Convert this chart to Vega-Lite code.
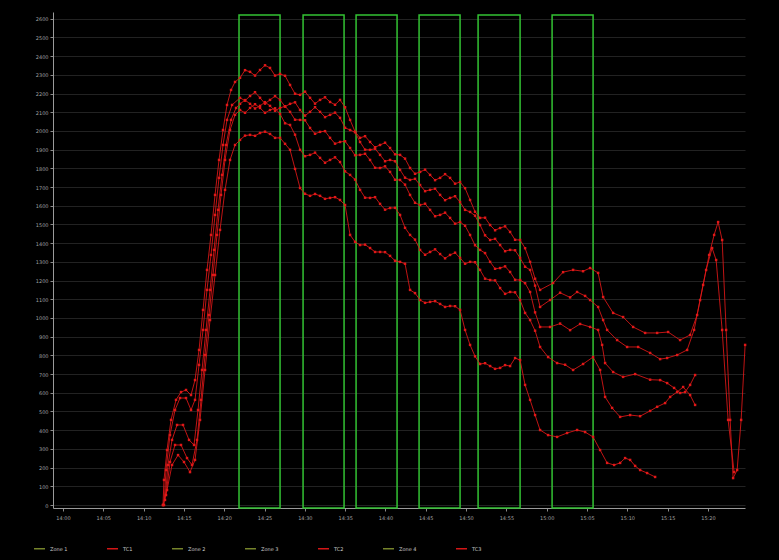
{
"$schema": "https://vega.github.io/schema/vega-lite/v6.json",
"width": 692, "height": 496,
"autosize": "none",
"padding": {"left": 53, "top": 12, "right": 34, "bottom": 52},
"background": "#000000",
"config": {
 "view": {"stroke": null},
 "axis": {"labelFont": "DejaVu Sans", "labelFontSize": 5, "labelColor": "#a0a0a0", "domainColor": "#9a9a9a", "tickColor": "#8a8a8a", "tickSize": 3, "title": null, "labelOverlap": false},
 "legend": {"labelFont": "DejaVu Sans"}
},
"datasets": {
 "windows": [
  {"w": "W1", "a": 4.367, "b": 5.385, "hi": 2620, "lo": -16},
  {"w": "W2", "a": 5.956, "b": 6.973, "hi": 2620, "lo": -16},
  {"w": "W3", "a": 7.271, "b": 8.288, "hi": 2620, "lo": -16},
  {"w": "W4", "a": 8.834, "b": 9.851, "hi": 2620, "lo": -16},
  {"w": "W5", "a": 10.298, "b": 11.340, "hi": 2620, "lo": -16},
  {"w": "W6", "a": 12.134, "b": 13.151, "hi": 2620, "lo": -16}
 ],
 "keys": [
  {"s": "S1", "k": "TC1"}, {"s": "S2", "k": "TC1"}, {"s": "S3", "k": "TC2"}, {"s": "S4", "k": "TC2"}, {"s": "S5", "k": "TC3"}
 ],
 "trace": [
{"s":"S1","t":2.481,"v":0},{"s":"S1","t":2.506,"v":134},{"s":"S1","t":2.581,"v":294},{"s":"S1","t":2.680,"v":455},{"s":"S1","t":2.804,"v":562},{"s":"S1","t":2.928,"v":604},{"s":"S1","t":3.052,"v":615},{"s":"S1","t":3.176,"v":588},{"s":"S1","t":3.275,"v":668},{"s":"S1","t":3.375,"v":829},{"s":"S1","t":3.474,"v":1043},{"s":"S1","t":3.573,"v":1257},{"s":"S1","t":3.672,"v":1444},{"s":"S1","t":3.772,"v":1658},{"s":"S1","t":3.871,"v":1845},{"s":"S1","t":3.970,"v":2005},{"s":"S1","t":4.069,"v":2139},{"s":"S1","t":4.169,"v":2219},{"s":"S1","t":4.268,"v":2262},
{"s":"S1","t":4.392,"v":2284},{"s":"S1","t":4.516,"v":2325},{"s":"S1","t":4.640,"v":2316},{"s":"S1","t":4.764,"v":2296},{"s":"S1","t":4.888,"v":2326},{"s":"S1","t":5.012,"v":2351},{"s":"S1","t":5.136,"v":2337},{"s":"S1","t":5.261,"v":2296},{"s":"S1","t":5.385,"v":2305},{"s":"S1","t":5.509,"v":2295},{"s":"S1","t":5.633,"v":2246},{"s":"S1","t":5.757,"v":2199},{"s":"S1","t":5.881,"v":2193},{"s":"S1","t":6.005,"v":2210},{"s":"S1","t":6.129,"v":2177},{"s":"S1","t":6.253,"v":2146},{"s":"S1","t":6.377,"v":2166},{"s":"S1","t":6.501,"v":2180},{"s":"S1","t":6.625,"v":2155},{"s":"S1","t":6.749,"v":2140},{"s":"S1","t":6.873,"v":2166},{"s":"S1","t":6.998,"v":2127},{"s":"S1","t":7.122,"v":2059},{"s":"S1","t":7.246,"v":1996},{"s":"S1","t":7.370,"v":1963},{"s":"S1","t":7.494,"v":1972},{"s":"S1","t":7.618,"v":1941},{"s":"S1","t":7.742,"v":1913},{"s":"S1","t":7.866,"v":1925},{"s":"S1","t":7.990,"v":1937},{"s":"S1","t":8.114,"v":1909},{"s":"S1","t":8.238,"v":1875},{"s":"S1","t":8.362,"v":1872},{"s":"S1","t":8.486,"v":1852},{"s":"S1","t":8.610,"v":1802},{"s":"S1","t":8.734,"v":1771},{"s":"S1","t":8.859,"v":1781},{"s":"S1","t":8.983,"v":1793},{"s":"S1","t":9.107,"v":1765},{"s":"S1","t":9.231,"v":1737},{"s":"S1","t":9.355,"v":1749},{"s":"S1","t":9.479,"v":1769},{"s":"S1","t":9.603,"v":1749},{"s":"S1","t":9.727,"v":1718},{"s":"S1","t":9.851,"v":1727},{"s":"S1","t":9.975,"v":1694},{"s":"S1","t":10.099,"v":1631},{"s":"S1","t":10.223,"v":1568},{"s":"S1","t":10.347,"v":1535},{"s":"S1","t":10.471,"v":1536},{"s":"S1","t":10.596,"v":1497},{"s":"S1","t":10.720,"v":1469},{"s":"S1","t":10.844,"v":1481},{"s":"S1","t":10.968,"v":1490},{"s":"S1","t":11.092,"v":1460},{"s":"S1","t":11.216,"v":1418},{"s":"S1","t":11.340,"v":1417},{"s":"S1","t":11.464,"v":1373},{"s":"S1","t":11.588,"v":1300},{"s":"S1","t":11.712,"v":1210},{"s":"S1","t":11.836,"v":1150},
{"s":"S1","t":12.159,"v":1187},{"s":"S1","t":12.407,"v":1245},{"s":"S1","t":12.655,"v":1257},{"s":"S1","t":12.903,"v":1250},{"s":"S1","t":13.077,"v":1267},{"s":"S1","t":13.276,"v":1241},{"s":"S1","t":13.400,"v":1112},{"s":"S1","t":13.648,"v":1027},{"s":"S1","t":13.896,"v":1005},{"s":"S1","t":14.144,"v":952},{"s":"S1","t":14.442,"v":920},{"s":"S1","t":14.740,"v":920},{"s":"S1","t":15.012,"v":925},{"s":"S1","t":15.310,"v":882},{"s":"S1","t":15.558,"v":909},{"s":"S1","t":15.732,"v":1016},{"s":"S1","t":15.881,"v":1177},{"s":"S1","t":16.030,"v":1337},{"s":"S1","t":16.154,"v":1444},{"s":"S1","t":16.253,"v":1513},{"s":"S1","t":16.353,"v":1417},{"s":"S1","t":16.452,"v":936},{"s":"S1","t":16.551,"v":455},{"s":"S1","t":16.625,"v":144},{"s":"S1","t":16.725,"v":187},{"s":"S1","t":16.824,"v":455},{"s":"S1","t":16.923,"v":856},
{"s":"S2","t":2.506,"v":0},{"s":"S2","t":2.556,"v":187},{"s":"S2","t":2.655,"v":374},{"s":"S2","t":2.779,"v":508},{"s":"S2","t":2.903,"v":572},{"s":"S2","t":3.052,"v":572},{"s":"S2","t":3.176,"v":508},{"s":"S2","t":3.275,"v":562},{"s":"S2","t":3.375,"v":749},{"s":"S2","t":3.474,"v":936},{"s":"S2","t":3.573,"v":1150},{"s":"S2","t":3.672,"v":1337},{"s":"S2","t":3.772,"v":1551},{"s":"S2","t":3.871,"v":1749},{"s":"S2","t":3.970,"v":1925},{"s":"S2","t":4.069,"v":2059},{"s":"S2","t":4.194,"v":2139},
{"s":"S2","t":4.392,"v":2177},{"s":"S2","t":4.516,"v":2162},{"s":"S2","t":4.640,"v":2187},{"s":"S2","t":4.764,"v":2207},{"s":"S2","t":4.888,"v":2177},{"s":"S2","t":5.012,"v":2146},{"s":"S2","t":5.136,"v":2166},{"s":"S2","t":5.261,"v":2186},{"s":"S2","t":5.385,"v":2166},{"s":"S2","t":5.509,"v":2130},{"s":"S2","t":5.633,"v":2145},{"s":"S2","t":5.757,"v":2153},{"s":"S2","t":5.881,"v":2112},{"s":"S2","t":6.005,"v":2082},{"s":"S2","t":6.129,"v":2102},{"s":"S2","t":6.253,"v":2127},{"s":"S2","t":6.377,"v":2102},{"s":"S2","t":6.501,"v":2074},{"s":"S2","t":6.625,"v":2086},{"s":"S2","t":6.749,"v":2098},{"s":"S2","t":6.873,"v":2070},{"s":"S2","t":6.998,"v":2017},{"s":"S2","t":7.122,"v":2005},{"s":"S2","t":7.246,"v":1993},{"s":"S2","t":7.370,"v":1941},{"s":"S2","t":7.494,"v":1900},{"s":"S2","t":7.618,"v":1899},{"s":"S2","t":7.742,"v":1905},{"s":"S2","t":7.866,"v":1872},{"s":"S2","t":7.990,"v":1838},{"s":"S2","t":8.114,"v":1845},{"s":"S2","t":8.238,"v":1838},{"s":"S2","t":8.362,"v":1792},{"s":"S2","t":8.486,"v":1750},{"s":"S2","t":8.610,"v":1738},{"s":"S2","t":8.734,"v":1744},{"s":"S2","t":8.859,"v":1711},{"s":"S2","t":8.983,"v":1678},{"s":"S2","t":9.107,"v":1685},{"s":"S2","t":9.231,"v":1691},{"s":"S2","t":9.355,"v":1658},{"s":"S2","t":9.479,"v":1630},{"s":"S2","t":9.603,"v":1642},{"s":"S2","t":9.727,"v":1651},{"s":"S2","t":9.851,"v":1620},{"s":"S2","t":9.975,"v":1578},{"s":"S2","t":10.099,"v":1567},{"s":"S2","t":10.223,"v":1547},{"s":"S2","t":10.347,"v":1497},{"s":"S2","t":10.471,"v":1442},{"s":"S2","t":10.596,"v":1417},{"s":"S2","t":10.720,"v":1423},{"s":"S2","t":10.844,"v":1390},{"s":"S2","t":10.968,"v":1357},{"s":"S2","t":11.092,"v":1364},{"s":"S2","t":11.216,"v":1362},{"s":"S2","t":11.340,"v":1321},{"s":"S2","t":11.464,"v":1274},{"s":"S2","t":11.588,"v":1257},{"s":"S2","t":11.712,"v":1173},{"s":"S2","t":11.836,"v":1059},
{"s":"S2","t":12.084,"v":1096},{"s":"S2","t":12.333,"v":1135},{"s":"S2","t":12.581,"v":1110},{"s":"S2","t":12.754,"v":1139},{"s":"S2","t":12.953,"v":1118},{"s":"S2","t":13.077,"v":1096},{"s":"S2","t":13.276,"v":1059},{"s":"S2","t":13.400,"v":989},{"s":"S2","t":13.499,"v":936},{"s":"S2","t":13.747,"v":882},{"s":"S2","t":13.995,"v":845},{"s":"S2","t":14.268,"v":845},{"s":"S2","t":14.566,"v":813},{"s":"S2","t":14.814,"v":780},{"s":"S2","t":14.988,"v":786},{"s":"S2","t":15.236,"v":802},{"s":"S2","t":15.484,"v":829},{"s":"S2","t":15.657,"v":936},{"s":"S2","t":15.806,"v":1096},{"s":"S2","t":15.955,"v":1257},{"s":"S2","t":16.104,"v":1374},{"s":"S2","t":16.204,"v":1310},{"s":"S2","t":16.353,"v":936},{"s":"S2","t":16.501,"v":455},{"s":"S2","t":16.650,"v":176},
{"s":"S3","t":2.531,"v":27},{"s":"S3","t":2.605,"v":214},{"s":"S3","t":2.705,"v":348},{"s":"S3","t":2.829,"v":428},{"s":"S3","t":2.978,"v":428},{"s":"S3","t":3.127,"v":348},{"s":"S3","t":3.251,"v":321},{"s":"S3","t":3.350,"v":508},{"s":"S3","t":3.449,"v":722},{"s":"S3","t":3.548,"v":936},{"s":"S3","t":3.648,"v":1150},{"s":"S3","t":3.747,"v":1364},{"s":"S3","t":3.846,"v":1578},{"s":"S3","t":3.945,"v":1765},{"s":"S3","t":4.045,"v":1925},{"s":"S3","t":4.169,"v":2059},{"s":"S3","t":4.293,"v":2123},
{"s":"S3","t":4.392,"v":2145},{"s":"S3","t":4.516,"v":2165},{"s":"S3","t":4.640,"v":2145},{"s":"S3","t":4.764,"v":2120},{"s":"S3","t":4.888,"v":2134},{"s":"S3","t":5.012,"v":2154},{"s":"S3","t":5.136,"v":2134},{"s":"S3","t":5.261,"v":2108},{"s":"S3","t":5.385,"v":2123},{"s":"S3","t":5.509,"v":2132},{"s":"S3","t":5.633,"v":2102},{"s":"S3","t":5.757,"v":2060},{"s":"S3","t":5.881,"v":2059},{"s":"S3","t":6.005,"v":2057},{"s":"S3","t":6.129,"v":2016},{"s":"S3","t":6.253,"v":1985},{"s":"S3","t":6.377,"v":1995},{"s":"S3","t":6.501,"v":1999},{"s":"S3","t":6.625,"v":1963},{"s":"S3","t":6.749,"v":1932},{"s":"S3","t":6.873,"v":1941},{"s":"S3","t":6.998,"v":1945},{"s":"S3","t":7.122,"v":1909},{"s":"S3","t":7.246,"v":1870},{"s":"S3","t":7.370,"v":1872},{"s":"S3","t":7.494,"v":1878},{"s":"S3","t":7.618,"v":1845},{"s":"S3","t":7.742,"v":1803},{"s":"S3","t":7.866,"v":1802},{"s":"S3","t":7.990,"v":1811},{"s":"S3","t":8.114,"v":1781},{"s":"S3","t":8.238,"v":1739},{"s":"S3","t":8.362,"v":1738},{"s":"S3","t":8.486,"v":1713},{"s":"S3","t":8.610,"v":1658},{"s":"S3","t":8.734,"v":1616},{"s":"S3","t":8.859,"v":1604},{"s":"S3","t":8.983,"v":1611},{"s":"S3","t":9.107,"v":1578},{"s":"S3","t":9.231,"v":1544},{"s":"S3","t":9.355,"v":1551},{"s":"S3","t":9.479,"v":1563},{"s":"S3","t":9.603,"v":1535},{"s":"S3","t":9.727,"v":1504},{"s":"S3","t":9.851,"v":1513},{"s":"S3","t":9.975,"v":1493},{"s":"S3","t":10.099,"v":1444},{"s":"S3","t":10.223,"v":1389},{"s":"S3","t":10.347,"v":1364},{"s":"S3","t":10.471,"v":1347},{"s":"S3","t":10.596,"v":1300},{"s":"S3","t":10.720,"v":1263},{"s":"S3","t":10.844,"v":1267},{"s":"S3","t":10.968,"v":1276},{"s":"S3","t":11.092,"v":1246},{"s":"S3","t":11.216,"v":1204},{"s":"S3","t":11.340,"v":1203},{"s":"S3","t":11.464,"v":1186},{"s":"S3","t":11.588,"v":1139},{"s":"S3","t":11.712,"v":1030},{"s":"S3","t":11.836,"v":952},
{"s":"S3","t":12.084,"v":952},{"s":"S3","t":12.333,"v":970},{"s":"S3","t":12.581,"v":935},{"s":"S3","t":12.829,"v":968},{"s":"S3","t":13.077,"v":952},{"s":"S3","t":13.276,"v":936},{"s":"S3","t":13.375,"v":856},{"s":"S3","t":13.449,"v":759},{"s":"S3","t":13.648,"v":711},{"s":"S3","t":13.896,"v":685},{"s":"S3","t":14.194,"v":700},{"s":"S3","t":14.566,"v":670},{"s":"S3","t":14.814,"v":668},{"s":"S3","t":14.988,"v":652},{"s":"S3","t":15.161,"v":626},{"s":"S3","t":15.310,"v":599},{"s":"S3","t":15.434,"v":604},{"s":"S3","t":15.558,"v":642},{"s":"S3","t":15.682,"v":695},
{"s":"S4","t":2.556,"v":53},{"s":"S4","t":2.655,"v":230},{"s":"S4","t":2.779,"v":321},{"s":"S4","t":2.928,"v":321},{"s":"S4","t":3.077,"v":251},{"s":"S4","t":3.201,"v":214},{"s":"S4","t":3.325,"v":348},{"s":"S4","t":3.424,"v":562},{"s":"S4","t":3.524,"v":802},{"s":"S4","t":3.623,"v":1016},{"s":"S4","t":3.722,"v":1230},{"s":"S4","t":3.821,"v":1444},{"s":"S4","t":3.921,"v":1658},{"s":"S4","t":4.020,"v":1845},{"s":"S4","t":4.144,"v":2005},{"s":"S4","t":4.268,"v":2086},
{"s":"S4","t":4.392,"v":2112},{"s":"S4","t":4.516,"v":2097},{"s":"S4","t":4.640,"v":2123},{"s":"S4","t":4.764,"v":2143},{"s":"S4","t":4.888,"v":2123},{"s":"S4","t":5.012,"v":2097},{"s":"S4","t":5.136,"v":2112},{"s":"S4","t":5.261,"v":2121},{"s":"S4","t":5.385,"v":2091},{"s":"S4","t":5.509,"v":2041},{"s":"S4","t":5.633,"v":2032},{"s":"S4","t":5.757,"v":1980},{"s":"S4","t":5.881,"v":1899},{"s":"S4","t":6.005,"v":1865},{"s":"S4","t":6.129,"v":1872},{"s":"S4","t":6.253,"v":1884},{"s":"S4","t":6.377,"v":1856},{"s":"S4","t":6.501,"v":1830},{"s":"S4","t":6.625,"v":1845},{"s":"S4","t":6.749,"v":1859},{"s":"S4","t":6.873,"v":1834},{"s":"S4","t":6.998,"v":1784},{"s":"S4","t":7.122,"v":1765},{"s":"S4","t":7.246,"v":1740},{"s":"S4","t":7.370,"v":1685},{"s":"S4","t":7.494,"v":1643},{"s":"S4","t":7.618,"v":1642},{"s":"S4","t":7.742,"v":1646},{"s":"S4","t":7.866,"v":1610},{"s":"S4","t":7.990,"v":1579},{"s":"S4","t":8.114,"v":1588},{"s":"S4","t":8.238,"v":1589},{"s":"S4","t":8.362,"v":1551},{"s":"S4","t":8.486,"v":1482},{"s":"S4","t":8.610,"v":1444},{"s":"S4","t":8.734,"v":1419},{"s":"S4","t":8.859,"v":1364},{"s":"S4","t":8.983,"v":1338},{"s":"S4","t":9.107,"v":1353},{"s":"S4","t":9.231,"v":1367},{"s":"S4","t":9.355,"v":1342},{"s":"S4","t":9.479,"v":1319},{"s":"S4","t":9.603,"v":1337},{"s":"S4","t":9.727,"v":1349},{"s":"S4","t":9.851,"v":1321},{"s":"S4","t":9.975,"v":1290},{"s":"S4","t":10.099,"v":1300},{"s":"S4","t":10.223,"v":1298},{"s":"S4","t":10.347,"v":1257},{"s":"S4","t":10.471,"v":1210},{"s":"S4","t":10.596,"v":1203},{"s":"S4","t":10.720,"v":1201},{"s":"S4","t":10.844,"v":1160},{"s":"S4","t":10.968,"v":1129},{"s":"S4","t":11.092,"v":1139},{"s":"S4","t":11.216,"v":1137},{"s":"S4","t":11.340,"v":1096},{"s":"S4","t":11.464,"v":1027},{"s":"S4","t":11.588,"v":989},{"s":"S4","t":11.712,"v":932},{"s":"S4","t":11.836,"v":845},
{"s":"S4","t":12.035,"v":791},{"s":"S4","t":12.258,"v":759},{"s":"S4","t":12.457,"v":750},{"s":"S4","t":12.655,"v":722},{"s":"S4","t":12.903,"v":754},{"s":"S4","t":13.151,"v":791},{"s":"S4","t":13.325,"v":722},{"s":"S4","t":13.449,"v":578},{"s":"S4","t":13.623,"v":519},{"s":"S4","t":13.822,"v":471},{"s":"S4","t":14.070,"v":481},{"s":"S4","t":14.318,"v":475},{"s":"S4","t":14.566,"v":503},{"s":"S4","t":14.740,"v":525},{"s":"S4","t":14.938,"v":545},{"s":"S4","t":15.062,"v":578},{"s":"S4","t":15.236,"v":604},{"s":"S4","t":15.385,"v":631},{"s":"S4","t":15.558,"v":588},{"s":"S4","t":15.682,"v":535},
{"s":"S5","t":2.481,"v":0},{"s":"S5","t":2.581,"v":80},{"s":"S5","t":2.705,"v":214},{"s":"S5","t":2.854,"v":267},{"s":"S5","t":3.002,"v":230},{"s":"S5","t":3.151,"v":176},{"s":"S5","t":3.275,"v":241},{"s":"S5","t":3.400,"v":455},{"s":"S5","t":3.524,"v":722},{"s":"S5","t":3.648,"v":989},{"s":"S5","t":3.772,"v":1230},{"s":"S5","t":3.896,"v":1471},{"s":"S5","t":4.020,"v":1685},{"s":"S5","t":4.144,"v":1845},{"s":"S5","t":4.268,"v":1925},
{"s":"S5","t":4.392,"v":1952},{"s":"S5","t":4.516,"v":1975},{"s":"S5","t":4.640,"v":1979},{"s":"S5","t":4.764,"v":1974},{"s":"S5","t":4.888,"v":1989},{"s":"S5","t":5.012,"v":1996},{"s":"S5","t":5.136,"v":1984},{"s":"S5","t":5.261,"v":1963},{"s":"S5","t":5.385,"v":1963},{"s":"S5","t":5.509,"v":1931},{"s":"S5","t":5.633,"v":1899},{"s":"S5","t":5.757,"v":1797},{"s":"S5","t":5.881,"v":1695},{"s":"S5","t":6.005,"v":1664},{"s":"S5","t":6.129,"v":1653},{"s":"S5","t":6.253,"v":1663},{"s":"S5","t":6.377,"v":1653},{"s":"S5","t":6.501,"v":1637},{"s":"S5","t":6.625,"v":1642},{"s":"S5","t":6.749,"v":1646},{"s":"S5","t":6.873,"v":1631},{"s":"S5","t":6.998,"v":1604},{"s":"S5","t":7.122,"v":1444},{"s":"S5","t":7.246,"v":1407},{"s":"S5","t":7.370,"v":1390},{"s":"S5","t":7.494,"v":1392},{"s":"S5","t":7.618,"v":1374},{"s":"S5","t":7.742,"v":1353},{"s":"S5","t":7.866,"v":1353},{"s":"S5","t":7.990,"v":1352},{"s":"S5","t":8.114,"v":1332},{"s":"S5","t":8.238,"v":1306},{"s":"S5","t":8.362,"v":1300},{"s":"S5","t":8.486,"v":1290},{"s":"S5","t":8.610,"v":1150},{"s":"S5","t":8.734,"v":1133},{"s":"S5","t":8.859,"v":1096},{"s":"S5","t":8.983,"v":1081},{"s":"S5","t":9.107,"v":1086},{"s":"S5","t":9.231,"v":1090},{"s":"S5","t":9.355,"v":1075},{"s":"S5","t":9.479,"v":1059},{"s":"S5","t":9.603,"v":1064},{"s":"S5","t":9.727,"v":1063},{"s":"S5","t":9.851,"v":1043},{"s":"S5","t":9.975,"v":936},{"s":"S5","t":10.099,"v":856},{"s":"S5","t":10.223,"v":795},{"s":"S5","t":10.347,"v":754},{"s":"S5","t":10.471,"v":758},{"s":"S5","t":10.596,"v":743},{"s":"S5","t":10.720,"v":728},{"s":"S5","t":10.844,"v":733},{"s":"S5","t":10.968,"v":748},{"s":"S5","t":11.092,"v":743},{"s":"S5","t":11.216,"v":786},{"s":"S5","t":11.340,"v":775},{"s":"S5","t":11.464,"v":642},{"s":"S5","t":11.588,"v":562},{"s":"S5","t":11.712,"v":481},{"s":"S5","t":11.836,"v":401},
{"s":"S5","t":12.035,"v":374},{"s":"S5","t":12.258,"v":364},{"s":"S5","t":12.506,"v":385},{"s":"S5","t":12.754,"v":401},{"s":"S5","t":12.953,"v":390},{"s":"S5","t":13.151,"v":364},{"s":"S5","t":13.325,"v":294},{"s":"S5","t":13.499,"v":225},{"s":"S5","t":13.673,"v":214},{"s":"S5","t":13.822,"v":225},{"s":"S5","t":13.945,"v":251},{"s":"S5","t":14.070,"v":241},{"s":"S5","t":14.194,"v":209},{"s":"S5","t":14.318,"v":187},{"s":"S5","t":14.491,"v":171},{"s":"S5","t":14.690,"v":150}
 ]
},
"layer": [
 {
  "data": {"name": "windows"},
  "mark": {"type": "rect", "filled": false, "color": "#33c233", "strokeWidth": 1.5},
  "encoding": {
   "x": {"field": "a", "type": "quantitative", "scale": {"domain": [-0.248, 16.92], "nice": false, "zero": false},
         "axis": {"values": [0,1,2,3,4,5,6,7,8,9,10,11,12,13,14,15,16], "labelExpr": "timeFormat(datetime(2021,0,1,14,datum.value*5,0),'%H:%M')", "grid": false, "labelPadding": 4}},
   "x2": {"field": "b"},
   "y": {"field": "hi", "type": "quantitative", "scale": {"domain": [-16, 2636], "nice": false, "zero": false},
         "axis": {"values": [0,100,200,300,400,500,600,700,800,900,1000,1100,1200,1300,1400,1500,1600,1700,1800,1900,2000,2100,2200,2300,2400,2500,2600], "format": "d", "grid": true, "gridColor": "#222222", "gridWidth": 1, "labelPadding": 2}},
   "y2": {"field": "lo"}
  }
 },
 {
  "data": {"name": "trace"},
  "transform": [{"lookup": "s", "from": {"data": {"name": "keys"}, "key": "s", "fields": ["k"]}}],
  "mark": {"type": "line", "strokeWidth": 0.9, "opacity": 0.95, "point": {"filled": true, "size": 6, "shape": "square"}},
  "encoding": {
   "x": {"field": "t", "type": "quantitative",
         "axis": {"values": [0,1,2,3,4,5,6,7,8,9,10,11,12,13,14,15,16], "labelExpr": "timeFormat(datetime(2021,0,1,14,datum.value*5,0),'%H:%M')", "grid": false, "labelPadding": 4}},
   "y": {"field": "v", "type": "quantitative",
         "axis": {"values": [0,100,200,300,400,500,600,700,800,900,1000,1100,1200,1300,1400,1500,1600,1700,1800,1900,2000,2100,2200,2300,2400,2500,2600], "format": "d", "grid": true, "gridColor": "#222222", "gridWidth": 1, "labelPadding": 2}},
   "detail": {"field": "s"},
   "color": {"field": "k", "type": "nominal",
     "scale": {"domain": ["Zone 1", "TC1", "Zone 2", "Zone 3", "TC2", "Zone 4", "TC3"], "range": ["#7d8c2e", "#e01818", "#7d8c2e", "#7d8c2e", "#e01818", "#7d8c2e", "#e01818"]},
     "legend": {"orient": "none", "legendX": -20, "legendY": 530, "direction": "horizontal", "columns": 7, "title": null, "symbolType": "stroke", "symbolSize": 120, "symbolStrokeWidth": 1.5, "labelFontSize": 5, "labelColor": "#c8c8c8", "columnPadding": 36}}
  }
 }
]
}
